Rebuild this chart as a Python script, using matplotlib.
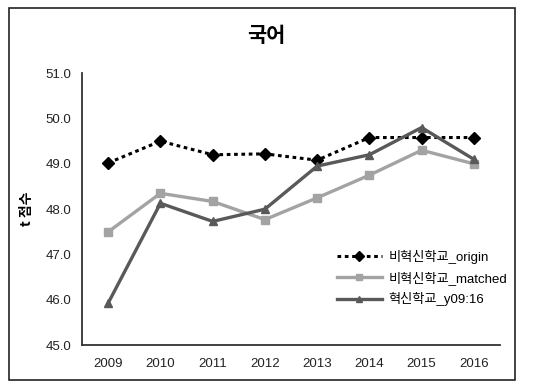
import matplotlib
matplotlib.use("Agg")
import matplotlib.pyplot as plt
from matplotlib.patches import Rectangle
from matplotlib.ticker import FuncFormatter

plt.rcParams['font.family'] = ['Liberation Sans', 'Noto Sans CJK KR', 'DejaVu Sans']

# 데이터
years = ["2009", "2010", "2011", "2012", "2013", "2014", "2015", "2016"]
origin = [49.02, 49.50, 49.20, 49.22, 49.08, 49.58, 49.58, 49.58]
matched = [47.50, 48.35, 48.17, 47.77, 48.25, 48.75, 49.30, 49.00]
innov = [45.93, 48.13, 47.73, 48.00, 48.95, 49.20, 49.80, 49.10]

fig = plt.figure(figsize=(5.33, 3.87), dpi=100)
ax = fig.add_axes([0.154, 0.108, 0.784, 0.703])

x = range(len(years))
ax.plot(x, origin, color="black", linestyle=(0, (1.2, 1.2)), linewidth=2.2,
        marker="D", markersize=6, label="비혁신학교_origin")
ax.plot(x, matched, color="#a3a3a3", linewidth=2.4,
        marker="s", markersize=6, label="비혁신학교_matched")
ax.plot(x, innov, color="#595959", linewidth=2.4,
        marker="^", markersize=6, label="혁신학교_y09:16")

ax.set_xlim(-0.5, len(years) - 0.5)
ax.set_ylim(45, 51)
ax.set_xticks(list(x))
ax.set_xticklabels(years)
ax.set_yticks([45, 46, 47, 48, 49, 50, 51])
ax.yaxis.set_major_formatter(FuncFormatter(lambda v, p: f"{v:.1f}"))
ax.tick_params(length=0, labelsize=9.5, colors="#222222")
ax.tick_params(axis="x", pad=9)
ax.tick_params(axis="y", pad=8)

for s in ["top", "right"]:
    ax.spines[s].set_visible(False)
for s in ["left", "bottom"]:
    ax.spines[s].set_color("#333333")
    ax.spines[s].set_linewidth(1.3)

ax.set_ylabel("t 점수", fontsize=10, fontweight="bold", labelpad=8,
              family=['Noto Sans CJK KR'])
fig.suptitle("국어", x=0.5, y=0.935, fontsize=15, fontweight="bold",
             family=['Noto Sans CJK KR'])

ax.legend(loc="lower right", bbox_to_anchor=(1.045, 0.1), frameon=False,
          fontsize=9.5, handlelength=3.4, handletextpad=0.5,
          labelspacing=0.55, markerscale=0.8)

# 바깥 테두리
fig.patches.append(Rectangle((0.016, 0.018), 0.95, 0.962, transform=fig.transFigure,
                             fill=False, edgecolor="#222222", linewidth=1.2))

fig.savefig("out.png", dpi=100)
